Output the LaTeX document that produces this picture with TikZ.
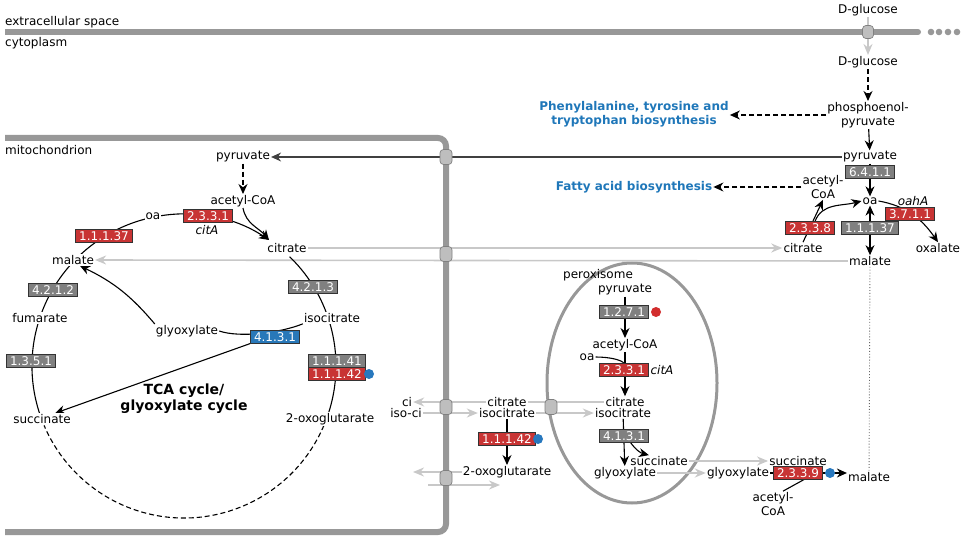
\documentclass[tikz,border=0pt]{standalone}
\usepackage{fontspec}
\setmainfont{DejaVu Sans}
\usetikzlibrary{arrows.meta,calc}
\pgfdeclarelayer{memlayer}
\pgfdeclarelayer{connlayer}
\pgfsetlayers{memlayer,connlayer,main}
\definecolor{ecred}{RGB}{200,52,52}
\definecolor{ecgray}{RGB}{128,128,128}
\definecolor{ecblue}{RGB}{40,120,185}
\definecolor{pwblue}{RGB}{31,119,185}
\definecolor{memgray}{RGB}{152,152,152}
\definecolor{lgarrow}{RGB}{200,200,200}
\definecolor{tpfill}{RGB}{190,190,190}
\definecolor{dotblue}{RGB}{40,120,190}
\definecolor{dotred}{RGB}{210,45,45}
\tikzset{
 lbl/.style={font=\fontsize{12}{14}\selectfont, inner sep=1pt, align=center},
 lblw/.style={lbl, fill=white},
 ec/.style={font=\fontsize{12}{14}\selectfont, text=white, draw=black!80, line width=0.6pt, inner xsep=3.5pt, inner ysep=1.5pt, text height=9pt, text depth=0.5pt},
 ecr/.style={ec, fill=ecred},
 ecg/.style={ec, fill=ecgray},
 ecb/.style={ec, fill=ecblue},
 pw/.style={font=\fontsize{12}{14}\selectfont\bfseries, text=pwblue, align=center, inner sep=1pt},
 conn/.style={draw=black, line width=1.1pt},
 arr/.style={conn, -{Stealth[length=10pt,width=9pt]}},
 darr/.style={arr, dash pattern=on 5pt off 3pt},
 garr/.style={draw=lgarrow, line width=1.6pt, -{Stealth[length=11pt,width=9pt]}},
 gline/.style={draw=lgarrow, line width=1.6pt},
 tp/.style={draw=black!50, fill=tpfill, rounded corners=3.5pt, minimum width=12pt, minimum height=15pt, inner sep=0pt, line width=0.7pt},
 mem/.style={draw=memgray, line width=6pt},
 edot/.style={circle, inner sep=0pt, minimum size=10pt},
}
\begin{document}
\begin{tikzpicture}[x=1pt,y=1pt]
\useasboundingbox (0,0) rectangle (964,-540);

% ---------- top / cytoplasm ----------
\node[lbl,anchor=west] (ecs) at (4,-22) {extracellular space};
\node[lbl,anchor=west] (cyto) at (4,-43) {cytoplasm};
\node[lbl] (glcout) at (868,-10) {D-glucose};
\node[lbl] (glcin) at (868,-62) {D-glucose};
\node[lbl] (pep) at (868,-115) {phosphoenol-\\pyruvate};
\node[pw] (phe) at (634,-114) {Phenylalanine, tyrosine and\\tryptophan biosynthesis};
\node[lbl] (pyrc) at (870,-157) {pyruvate};
\node[ecg] (e6411) at (870,-172) {6.4.1.1};
\node[lbl] (oac) at (870,-201) {oa};
\node[lbl] (acoac) at (823,-187) {acetyl-\\CoA};
\node[pw] (fab) at (634,-187) {Fatty acid biosynthesis};
\node[lbl] (oahA) at (913,-201) {\itshape oahA};
\node[ecr] (e3711) at (910,-214) {3.7.1.1};
\node[lbl] (oxal) at (938,-248) {oxalate};
\node[ecr] (e2338) at (810,-228) {2.3.3.8};
\node[ecg] (e11137c) at (870,-228) {1.1.1.37};
\node[lbl] (citc) at (803,-248) {citrate};
\node[lbl] (malc) at (870,-261) {malate};
\node[lbl] (malp) at (869,-477) {malate};

% ---------- mitochondrion ----------
\node[lbl,anchor=west] (mitolbl) at (4,-150) {mitochondrion};
\node[lbl] (pyrm) at (243,-157) {pyruvate};
\node[lbl] (acoam) at (243,-201) {acetyl-CoA};
\node[lblw] (oam) at (153,-216) {oa};
\node[ecr] (e2331m) at (208,-216) {2.3.3.1};
\node[lbl] (citAm) at (207,-230) {\itshape citA};
\node[lbl] (citm) at (287,-248) {citrate};
\node[ecr] (e11137m) at (104,-236) {1.1.1.37};
\node[lblw] (malm) at (73,-260) {malate};
\node[ecg] (e4212) at (53,-290) {4.2.1.2};
\node[lblw] (fum) at (40,-318) {fumarate};
\node[ecg] (e1351) at (31,-361) {1.3.5.1};
\node[lblw] (succm) at (42,-419) {succinate};
\node[lblw] (isom) at (332,-318) {isocitrate};
\node[ecg] (e4213) at (313,-287) {4.2.1.3};
\node[ecg] (e11141) at (337,-361) {1.1.1.41};
\node[ecr] (e11142m) at (337,-374) {1.1.1.42};
\node[edot,fill=dotblue] (bdot1) at (369,-374) {};
\node[lblw] (oxom) at (330,-419) {2-oxoglutarate};
\node[lbl] (glyom) at (187,-331) {glyoxylate};
\node[ecb] (e4131m) at (275,-337) {4.1.3.1};
\node[font=\fontsize{14}{16}\selectfont\bfseries, align=center, inner sep=1pt] (tca) at (184,-399) {TCA cycle/\\glyoxylate cycle};

% ---------- cytoplasm middle ----------
\node[lbl] (ci) at (407,-402) {ci};
\node[lbl] (isoci) at (406,-413) {iso-ci};
\node[lbl] (citx) at (507,-402) {citrate};
\node[lbl] (isox) at (507,-413) {isocitrate};
\node[ecr] (e11142x) at (507,-439) {1.1.1.42};
\node[edot,fill=dotblue] (bdot2) at (538,-439) {};
\node[lbl] (oxox) at (507,-472) {2-oxoglutarate};

% ---------- peroxisome ----------
\node[lbl] (perox) at (598,-275) {peroxisome};
\node[lbl] (pyrp) at (625,-290) {pyruvate};
\node[ecg] (e1271) at (624,-312) {1.2.7.1};
\node[edot,fill=dotred] (rdot) at (656,-312) {};
\node[lbl] (acoap) at (625,-345) {acetyl-CoA};
\node[lbl] (oap) at (587,-357) {oa};
\node[ecr] (e2331p) at (624,-370) {2.3.3.1};
\node[lbl] (citAp) at (662,-370) {\itshape citA};
\node[lbl] (citp) at (625,-402) {citrate};
\node[lbl] (isop) at (623,-413) {isocitrate};
\node[ecg] (e4131p) at (624,-436) {4.1.3.1};
\node[lbl] (succp) at (659,-461) {succinate};
\node[lbl] (glyp) at (625,-473) {glyoxylate};

% ---------- right bottom ----------
\node[lbl] (succx) at (798,-461) {succinate};
\node[lbl] (glyx) at (738,-473) {glyoxylate};
\node[ecr] (e2339) at (798,-473) {2.3.3.9};
\node[edot,fill=dotblue] (bdot3) at (830,-473) {};
\node[lbl] (acoax) at (773,-504) {acetyl-\\CoA};

% ---------- transporters ----------
\node[tp, minimum width=11pt, minimum height=13pt] (tp1) at (868,-32) {};
\node[tp] (tpm1) at (446,-157) {};
\node[tp] (tpm2) at (446,-254) {};
\node[tp] (tpm3) at (446,-407) {};
\node[tp] (tpm4) at (446,-478) {};
\node[tp] (tpp) at (551,-407) {};

% ---------- membranes ----------
\begin{pgfonlayer}{memlayer}
\draw[mem] (5,-32) -- (918,-32);
\draw[mem, line cap=round] (915,-32) -- (918,-32);
\foreach \xx in {931,939,948,957} \fill[memgray] (\xx,-32) circle (3.3);
\draw[mem, rounded corners=8pt] (5,-138) -- (446,-138) -- (446,-532) -- (5,-532);
\draw[draw=memgray, line width=3pt] (632,-383) ellipse [x radius=85, y radius=120];
\end{pgfonlayer}

% ---------- connectors ----------
\begin{pgfonlayer}{connlayer}
\draw[garr] (glcout) -- (glcin);
\draw[darr] (glcin) -- (pep);
\draw[darr] (pep.west) -- (pep.west -| phe.east);
\draw[arr] (pep) -- (pyrc);
\draw[arr, draw=black!75] (pyrc.west) -- (pyrm.east);
\draw[arr] (pyrc) -- (oac);
\draw[darr] (acoac.west) -- (acoac.west -| fab.east);
\draw[arr] (oac.east) to[out=-10,in=125] (oxal.north);
\draw[arr] (citc.north) -- (acoac.south);
\draw[arr] ($(e2338.north)+(5,0)$) to[out=70,in=195] (oac.west);
\draw[conn, {Stealth[length=10pt,width=9pt]}-{Stealth[length=10pt,width=9pt]}] (oac) -- (malc);
\draw[draw=black!60, line width=0.9pt, dotted] (malc) -- (malp);
\draw[garr] (citm.east) -- (citc.west);
\draw[garr] (malc.west) -- (malm.east);

% mitochondrion
\draw[darr] (pyrm) -- (acoam);
\coordinate (tcac) at (184,-366);
\coordinate (citin) at (269,-240);
\draw[arr] (acoam.south) to[out=-80,in=130] (citin);
\draw[arr] ($(tcac)+(200:152)$) arc[start angle=200, end angle=56, radius=152];
\draw[conn] ($(tcac)+(46:152)$) arc[start angle=46, end angle=-23, radius=152];
\draw[conn, dash pattern=on 5pt off 3pt] ($(tcac)+(-23:152)$) arc[start angle=-23, end angle=-157, radius=152];
\draw[arr] (glyom.north west) to[bend right=12] (malm.-40);
\draw[conn] (isom.south west) .. controls (280,-333) and (240,-338) .. (glyom.east);
\draw[arr] (e4131m.south west) -- (succm.24);

% cytoplasm middle
\draw[garr] (citx.west) -- (ci.east);
\draw[garr] (isoci.east) -- (isox.west);
\draw[gline] (citx.east) -- (citp.west);
\draw[garr] (isox.east) -- (isop.west);
\draw[arr] (isox) -- (oxox);
\coordinate (oxoL) at (413,-472);
\draw[garr] (oxox.west) -- (oxoL);
\coordinate (oxoS) at (428,-485);
\coordinate (oxoT) at (500,-485);
\draw[garr] (oxoS) -- (oxoT);

% peroxisome
\draw[arr] (pyrp) -- (acoap);
\draw[arr] (acoap) -- (citp);
\draw[conn] (oap.east) .. controls (610,-357) and (622,-360) .. (e2331p.north);
\draw[arr] (isop) -- (glyp);
\draw[arr] (e4131p.-45) to[bend right=20] (succp.150);
\draw[garr] (succp.east) -- (succx.west);
\draw[garr] (glyp.east) -- (glyx.west);
\draw[conn] (glyx.east) -- (e2339.west);
\draw[arr] (e2339.east) -- (e2339.east -| malp.west);
\draw[conn] ($(acoax.north)+(10,0)$) -- ($(e2339.south)+(6,0)$);
\end{pgfonlayer}
\end{tikzpicture}
\end{document}
